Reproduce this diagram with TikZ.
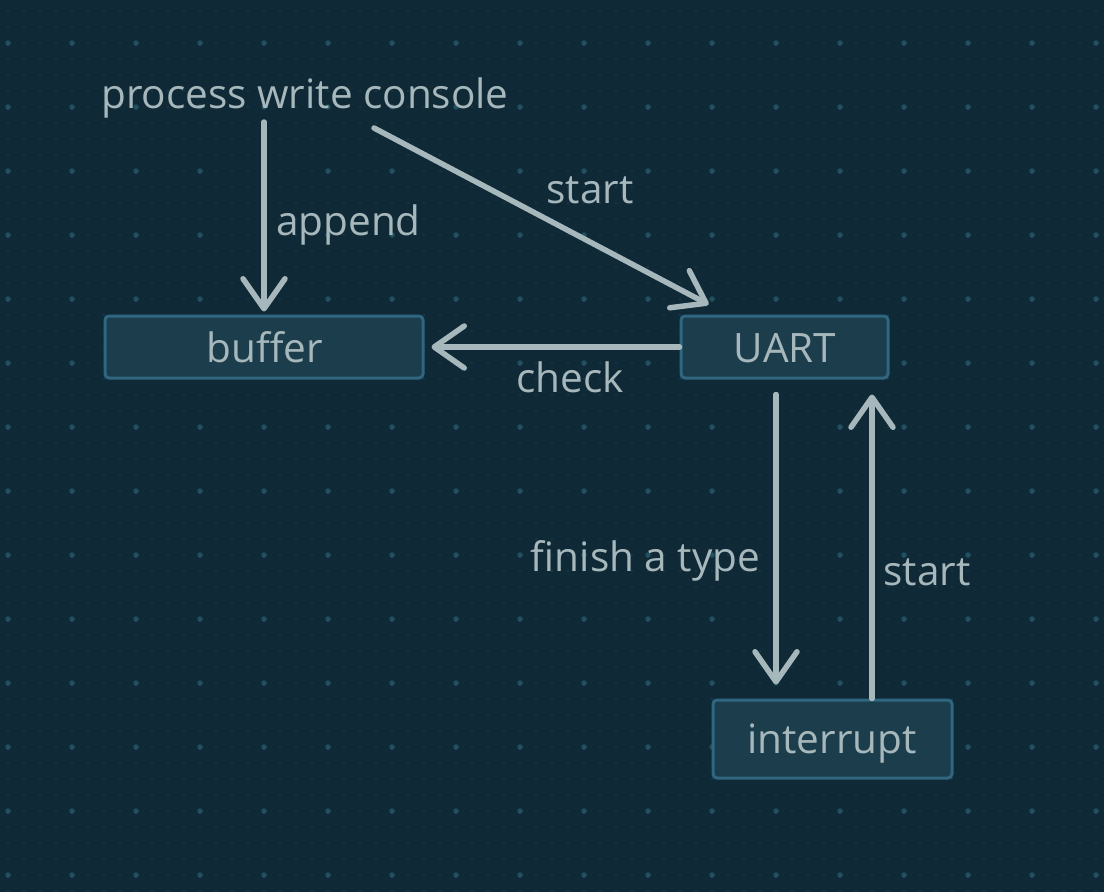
\documentclass[tikz,border=0pt]{standalone}
\usepackage{fontspec}
\setmainfont{Open Sans}
\usetikzlibrary{arrows.meta,calc}
\definecolor{bg}{HTML}{102936}
\definecolor{mindot}{HTML}{163646}
\definecolor{majdot}{HTML}{21505F}
\definecolor{boxfill}{HTML}{1C3D4C}
\definecolor{boxline}{HTML}{2F6780}
\definecolor{ink}{HTML}{A6B8BC}
\tikzset{
  box/.style={draw=boxline, fill=boxfill, line width=3pt, rounded corners=4pt, text=ink, inner sep=0pt},
  lbl/.style={text=ink, font=\fontsize{40.5}{44}\selectfont, inner sep=0pt},
  arr/.style={draw=ink, line width=5.5pt, line cap=round, -{Straight Barb[length=30pt,width=42pt,round]}},
}
\begin{document}
\begin{tikzpicture}[x=1pt,y=-1pt]
\useasboundingbox (0,0) rectangle (1104,892);
\fill[bg] (0,0) rectangle (1104,892);
\foreach \yy in {11,27,...,891} {
  \draw[mindot, line width=2.6pt, line cap=round, dash pattern=on 0pt off 16pt] (8,\yy) -- (1104,\yy);
}
\foreach \yy in {43,107,...,891} {
  \draw[majdot, line width=5.5pt, line cap=round, dash pattern=on 0pt off 64pt] (8,\yy) -- (1104,\yy);
}
% boxes
\node[box, minimum width=318pt, minimum height=62pt] (buffer) at (264,347) {};
\node[box, minimum width=207pt, minimum height=62pt] (uart) at (784.5,347) {};
\node[box, minimum width=239pt, minimum height=78pt] (intr) at (832.5,739) {};
\node[lbl, anchor=base] (tbuf) at (265,362) {buffer};
\node[lbl, anchor=base] (tuart) at (785,362) {UART};
\node[lbl, anchor=base] (tintr) at (832,753) {interrupt};
% labels
\node[lbl, anchor=base] (pwc) at (305,108) {process write console};
\node[lbl, anchor=base west] (lappend) at (276,235) {append};
\node[lbl, anchor=base] (lstart1) at (590,203) {start};
\node[lbl, anchor=base west] (lcheck) at (516,392) {check};
\node[lbl, anchor=base] (lfinish) at (645.5,571) {finish a type};
\node[lbl, anchor=base] (lstart2) at (927,585) {start};
% connector ends
\coordinate (a1) at (264,122);
\coordinate (s1) at (374,128);
\coordinate (s1e) at ($(uart.north west)+(29,-10)$);
% arrows
\draw[arr] (a1) -- ([yshift=3pt]buffer.north -| a1);
\draw[arr] (s1) -- (s1e);
\draw[arr] (uart.west) -- ([xshift=7pt]buffer.east);
\draw[arr] ([xshift=-8.5pt,yshift=-15pt]uart.south) -- ([yshift=14pt]intr.north -| 776,0);
\draw[arr] (872,0 |- intr.north) -- ([yshift=-15pt]uart.south -| 872,0);
\end{tikzpicture}
\end{document}
